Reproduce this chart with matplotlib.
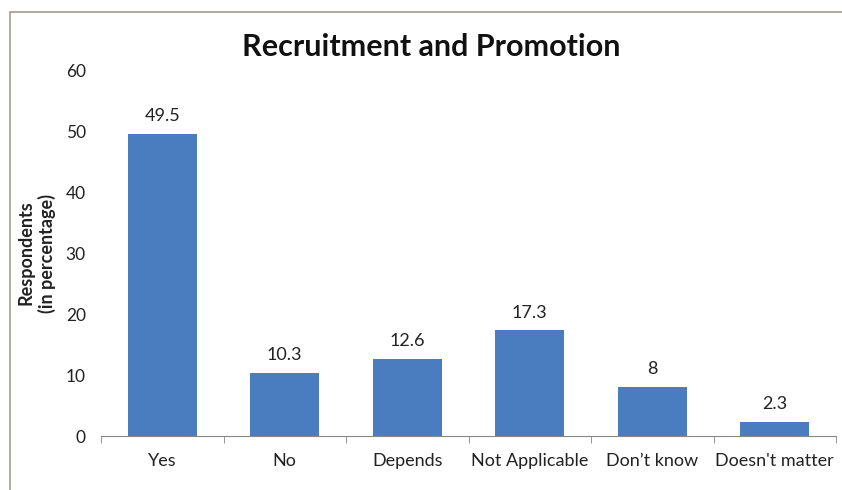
import matplotlib
matplotlib.use("Agg")
import matplotlib.pyplot as plt
from matplotlib.patches import Rectangle
import numpy as np

categories = ["Yes", "No", "Depends", "Not Applicable", "Don\u2019t know", "Doesn't matter"]
values = [49.5, 10.3, 12.6, 17.3, 8, 2.3]
value_labels = ["49.5", "10.3", "12.6", "17.3", "8", "2.3"]
yticks = [0, 10, 20, 30, 40, 50, 60]

plt.rcParams['font.family'] = ['Lato', 'DejaVu Sans']
txt = '#222222'

fig = plt.figure(figsize=(8.42, 4.9), dpi=100)
fig.patches.append(Rectangle((10/842, -0.05), 2, 1 - 12/490 + 0.05, transform=fig.transFigure,
                             fill=False, edgecolor='#a89a94', linewidth=1.2))
ax = fig.add_axes([101/842, 1 - 436/490, (836 - 101)/842, (436 - 70)/490])
x = np.arange(len(categories))
ax.bar(x, values, width=0.56, color='#4a7dbf')
ax.set_xlim(-0.5, len(categories) - 0.5)
ax.set_ylim(0, 60)
ax.set_yticks(yticks)
ax.set_yticklabels([str(t) for t in yticks], fontsize=12.5, color=txt)
ax.tick_params(axis='y', length=0, pad=11)
ax.set_xticks(x)
ax.set_xticklabels(categories, fontsize=13, color=txt)
ax.tick_params(axis='x', length=0, pad=12)
ax.set_xticks(np.arange(len(categories) + 1) - 0.5, minor=True)
ax.tick_params(axis='x', which='minor', length=5, color='#868686', direction='out')
for s in ['top', 'right', 'left']:
    ax.spines[s].set_visible(False)
ax.spines['bottom'].set_color('#868686')
for xi, v, lab in zip(x, values, value_labels):
    ax.annotate(lab, (xi, v), xytext=(0, 7), textcoords='offset points',
                ha='center', va='bottom', fontsize=13, color=txt)
ax.set_ylabel("Respondents\n(in percentage)", fontsize=13, fontweight='bold', color=txt,
              linespacing=1.2, labelpad=7)
fig.text(431/842, 1 - 47/490, "Recruitment and Promotion", ha='center', va='center',
         fontsize=22, fontweight='bold', color='#111111')
fig.savefig("out.png", dpi=100)
